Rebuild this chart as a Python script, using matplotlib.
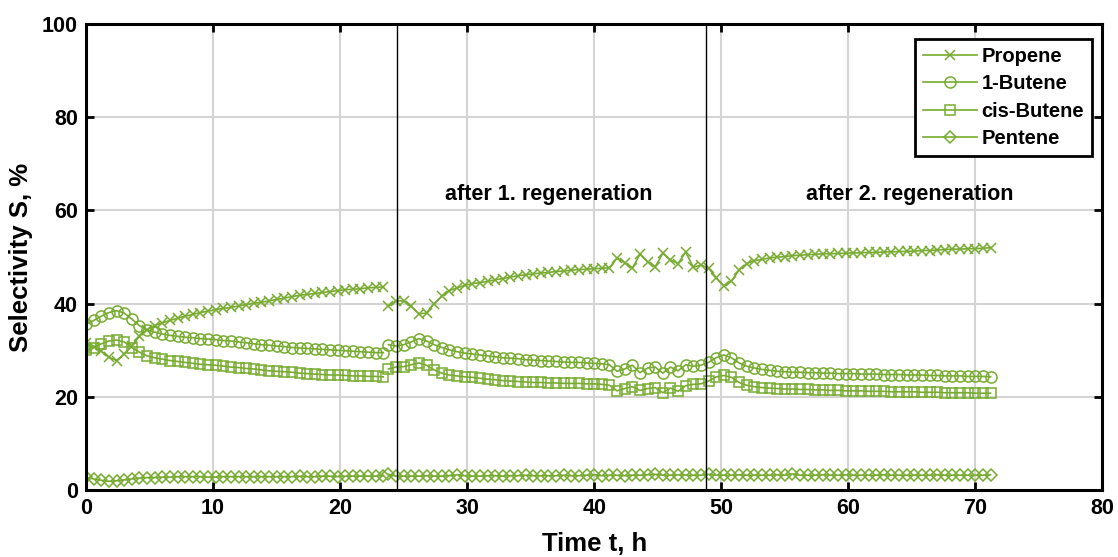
import matplotlib.pyplot as plt

plt.rcParams["font.family"] = ["Liberation Sans", "DejaVu Sans"]
plt.rcParams["font.weight"] = "bold"

# Sampling times, h (first run / after regenerations)
t_run1 = [0.0, 0.6, 1.2, 1.8, 2.4, 3.0, 3.6, 4.2, 4.8, 5.4,
          6.0, 6.6, 7.2, 7.8, 8.4, 9.0, 9.6, 10.2, 10.8, 11.4,
          12.0, 12.6, 13.2, 13.8, 14.4, 15.0, 15.6, 16.2, 16.8, 17.4,
          18.0, 18.6, 19.2, 19.8, 20.4, 21.0, 21.6, 22.2, 22.8, 23.4]
t_run2 = [23.8, 24.4, 25.0, 25.6, 26.2, 26.8, 27.4, 28.0, 28.6, 29.2,
          29.8, 30.4, 31.0, 31.6, 32.2, 32.8, 33.4, 34.0, 34.6, 35.2,
          35.8, 36.4, 37.0, 37.6, 38.2, 38.8, 39.4, 40.0, 40.6, 41.2,
          41.8, 42.4, 43.0, 43.6, 44.2, 44.8, 45.4, 46.0, 46.6, 47.2,
          47.8, 48.4, 49.0, 49.6, 50.2, 50.8, 51.4, 52.0, 52.6, 53.2,
          53.8, 54.4, 55.0, 55.6, 56.2, 56.8, 57.4, 58.0, 58.6, 59.2,
          59.8, 60.4, 61.0, 61.6, 62.2, 62.8, 63.4, 64.0, 64.6, 65.2,
          65.8, 66.4, 67.0, 67.6, 68.2, 68.8, 69.4, 70.0, 70.6, 71.2]

# Selectivity, %
propene_1 = [31.5, 30.8, 29.8, 28.5, 27.8, 29.2, 31.0, 33.0, 34.4, 35.3,
             35.9, 36.4, 36.9, 37.3, 37.7, 38.1, 38.4, 38.7, 39.0, 39.2,
             39.5, 39.8, 40.1, 40.3, 40.6, 40.9, 41.2, 41.5, 41.8, 42.0,
             42.2, 42.4, 42.6, 42.8, 43.0, 43.1, 43.2, 43.4, 43.5, 43.6]
propene_2 = [39.5, 40.6, 40.6, 39.4, 37.8, 38.0, 40.0, 41.6, 42.8, 43.4,
             43.9, 44.3, 44.5, 44.8, 45.1, 45.4, 45.7, 46.0, 46.2, 46.4,
             46.6, 46.7, 46.9, 47.0, 47.2, 47.3, 47.4, 47.5, 47.6, 47.7,
             49.8, 48.8, 47.6, 50.6, 49.0, 47.9, 50.8, 49.4, 48.6, 51.1,
             47.8, 48.3, 47.6, 45.6, 43.8, 44.8, 47.2, 48.6, 49.2, 49.5,
             49.8, 50.0, 50.1, 50.3, 50.4, 50.5, 50.6, 50.7, 50.7, 50.8,
             50.8, 50.9, 50.9, 51.0, 51.0, 51.1, 51.1, 51.2, 51.2, 51.3,
             51.4, 51.4, 51.5, 51.6, 51.7, 51.7, 51.8, 51.8, 51.9, 52.0]

butene1_1 = [35.6, 36.4, 37.3, 38.1, 38.5, 38.0, 36.7, 35.3, 34.3, 33.9,
             33.5, 33.2, 33.0, 32.8, 32.7, 32.5, 32.4, 32.3, 32.1, 32.0,
             31.8, 31.6, 31.4, 31.2, 31.1, 30.9, 30.8, 30.6, 30.5, 30.4,
             30.3, 30.2, 30.1, 30.0, 29.9, 29.8, 29.7, 29.6, 29.5, 29.5]
butene1_2 = [31.2, 30.9, 31.2, 31.8, 32.5, 32.0, 31.2, 30.6, 30.1, 29.7,
             29.4, 29.2, 29.0, 28.8, 28.6, 28.4, 28.3, 28.2, 28.0, 27.9,
             27.8, 27.7, 27.6, 27.5, 27.4, 27.4, 27.3, 27.2, 27.1, 26.9,
             25.5, 26.0, 26.8, 25.2, 26.2, 26.4, 25.1, 26.4, 25.6, 26.9,
             26.6, 26.8, 27.4, 28.4, 29.0, 28.4, 27.3, 26.6, 26.2, 25.9,
             25.7, 25.5, 25.4, 25.3, 25.3, 25.2, 25.2, 25.1, 25.1, 25.0,
             25.0, 25.0, 24.9, 24.9, 24.9, 24.8, 24.8, 24.8, 24.7, 24.7,
             24.7, 24.6, 24.6, 24.5, 24.5, 24.5, 24.4, 24.4, 24.4, 24.3]

cis_butene_1 = [30.0, 30.6, 31.4, 32.0, 32.2, 31.8, 30.6, 29.6, 28.8, 28.4,
                28.1, 27.8, 27.6, 27.4, 27.2, 27.0, 26.9, 26.8, 26.6, 26.4,
                26.3, 26.1, 26.0, 25.8, 25.6, 25.5, 25.4, 25.3, 25.1, 25.0,
                24.9, 24.8, 24.7, 24.7, 24.6, 24.5, 24.5, 24.4, 24.4, 24.3]
cis_butene_2 = [26.0, 26.4, 26.5, 26.9, 27.3, 26.8, 25.8, 25.1, 24.7, 24.5,
                24.3, 24.2, 24.0, 23.8, 23.7, 23.5, 23.4, 23.3, 23.2, 23.1,
                23.1, 23.0, 23.0, 22.9, 22.9, 22.9, 22.8, 22.8, 22.7, 22.5,
                21.3, 21.8, 22.2, 21.4, 21.8, 22.0, 20.9, 21.9, 21.2, 22.4,
                22.7, 22.8, 23.4, 24.3, 24.6, 24.2, 23.1, 22.5, 22.2, 22.0,
                21.9, 21.8, 21.7, 21.7, 21.6, 21.6, 21.5, 21.5, 21.4, 21.4,
                21.3, 21.3, 21.3, 21.2, 21.2, 21.2, 21.1, 21.1, 21.1, 21.1,
                21.0, 21.0, 21.0, 20.9, 20.9, 20.9, 20.9, 20.8, 20.8, 20.8]

pentene_1 = [2.8, 2.4, 2.1, 1.9, 2.0, 2.2, 2.4, 2.6, 2.7, 2.7,
             2.8, 2.8, 2.9, 2.9, 2.9, 2.9, 2.8, 2.8, 2.9, 2.9,
             2.9, 2.9, 2.9, 2.9, 2.9, 2.9, 2.9, 2.9, 3.0, 2.9,
             2.9, 3.0, 3.0, 2.9, 3.0, 3.0, 3.0, 3.0, 3.0, 3.1]
pentene_2 = [3.4, 3.0, 3.0, 3.0, 3.0, 3.1, 3.0, 3.0, 3.1, 3.3,
             3.1, 3.0, 3.0, 3.1, 3.1, 3.0, 3.1, 3.1, 3.2, 3.1,
             3.1, 3.1, 3.1, 3.2, 3.1, 3.1, 3.2, 3.3, 3.1, 3.2,
             3.2, 3.1, 3.2, 3.2, 3.3, 3.4, 3.2, 3.2, 3.3, 3.2,
             3.2, 3.2, 3.4, 3.2, 3.2, 3.2, 3.3, 3.2, 3.2, 3.2,
             3.2, 3.3, 3.2, 3.5, 3.2, 3.2, 3.2, 3.3, 3.2, 3.2,
             3.3, 3.2, 3.2, 3.2, 3.2, 3.3, 3.2, 3.2, 3.2, 3.2,
             3.2, 3.2, 3.3, 3.2, 3.2, 3.2, 3.2, 3.2, 3.2, 3.3]

regen_times = [24.5, 48.8]
regen_labels = ["after 1. regeneration", "after 2. regeneration"]
label_pos = [(36.4, 63.5), (64.8, 63.5)]

green = "#77AC30"

fig = plt.figure(figsize=(11.18, 5.57), dpi=100)
ax = fig.add_axes([0.077, 0.12, 0.909, 0.837])

series = [
    ("Propene", propene_1, propene_2, "x", 7),
    ("1-Butene", butene1_1, butene1_2, "o", 8),
    ("cis-Butene", cis_butene_1, cis_butene_2, "s", 6.5),
    ("Pentene", pentene_1, pentene_2, "D", 6.5),
]
for name, y1, y2, m, ms in series:
    style = dict(color=green, lw=1.2, marker=m, ms=ms, mfc="none",
                 mec=green, mew=1.1)
    ax.plot(t_run1, y1, label=name, **style)
    ax.plot(t_run2, y2, **style)

for t in regen_times:
    ax.axvline(t, color="black", lw=1.0, zorder=3)
for txt, (x, y) in zip(regen_labels, label_pos):
    ax.text(x, y, txt, ha="center", va="center", fontsize=15.5,
            fontweight="bold")

ax.set_xlim(0, 80)
ax.set_ylim(0, 100)
ax.set_xticks(range(0, 81, 10))
ax.set_yticks(range(0, 101, 20))
ax.grid(True, color="#d4d4d4", lw=1.5)
ax.set_axisbelow(True)
ax.tick_params(direction="in", length=6, width=2, labelsize=15.5,
               top=True, right=True, pad=6)
for lab in ax.get_xticklabels() + ax.get_yticklabels():
    lab.set_fontweight("bold")
for sp in ax.spines.values():
    sp.set_linewidth(2.2)

ax.set_xlabel("Time t, h", fontsize=18.5, fontweight="bold", labelpad=9)
ax.set_ylabel("Selectivity S, %", fontsize=18.5, fontweight="bold", labelpad=6)

leg = ax.legend(loc="upper right", bbox_to_anchor=(0.99, 0.968),
                fontsize=14.5, handlelength=2.7, handletextpad=0.2,
                labelspacing=0.42, borderpad=0.4, borderaxespad=0,
                fancybox=False, framealpha=1, edgecolor="black")
leg.get_frame().set_linewidth(2)
for t in leg.get_texts():
    t.set_fontweight("bold")

fig.savefig("out.png", dpi=100)
